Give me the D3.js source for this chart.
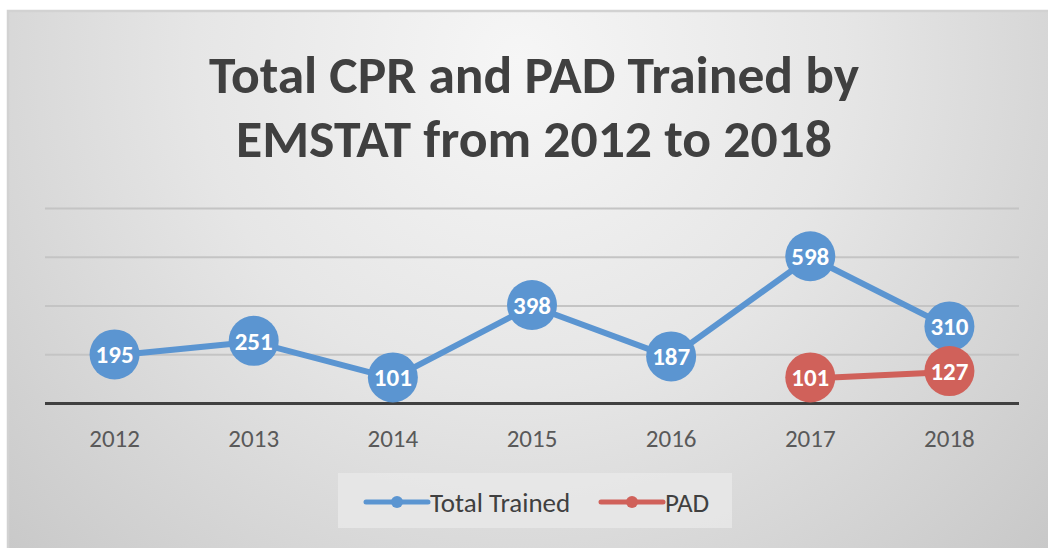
<!DOCTYPE html>
<html>
<head>
<meta charset="utf-8">
<script src="https://cdn.jsdelivr.net/npm/d3@7"></script>
<style>
  html, body { margin: 0; padding: 0; background: #fff; }
  svg { display: block; }
</style>
</head>
<body>
<svg id="chart" width="1048" height="548"></svg>
<script>
var years = ['2012', '2013', '2014', '2015', '2016', '2017', '2018'];
var totalTrained = [195, 251, 101, 398, 187, 598, 310];
var padTrained = [null, null, null, null, null, 101, 127];
var yTicks = [0, 200, 400, 600, 800];
var titleLines = ['Total CPR and PAD Trained by', 'EMSTAT from 2012 to 2018'];
var seriesNames = ['Total Trained', 'PAD'];
var seriesColors = ['#5b95d1', '#d0615a'];

var FONT = 'Carlito, "Liberation Sans Narrow", "Open Sans", sans-serif';

var svg = d3.select('#chart');
var W = 1048, H = 548;
var margin = { left: 45, right: 29, top: 208, bottom: 145 };

var defs = svg.append('defs');
var grad = defs.append('radialGradient')
  .attr('id', 'bg')
  .attr('gradientUnits', 'userSpaceOnUse')
  .attr('cx', 520).attr('cy', 60).attr('r', 720)
  .attr('fx', 520).attr('fy', 60);
grad.append('stop').attr('offset', '0%').attr('stop-color', '#f6f6f6');
grad.append('stop').attr('offset', '45%').attr('stop-color', '#e6e6e6');
grad.append('stop').attr('offset', '100%').attr('stop-color', '#c8c8c8');

// chart area background + border
svg.append('rect')
  .attr('x', 7).attr('y', 10).attr('width', W - 7).attr('height', H - 10)
  .attr('fill', 'url(#bg)');
svg.append('path')
  .attr('d', 'M8,' + H + 'V11H' + W)
  .attr('fill', 'none').attr('stroke', '#d2d2d2').attr('stroke-width', 2.5);

var x = d3.scaleBand()
  .domain(years)
  .range([margin.left, W - margin.right]);

var y = d3.scaleLinear()
  .domain([0, 800])
  .range([H - margin.bottom, margin.top]);

// title
svg.append('g').selectAll('text')
  .data(titleLines)
  .join('text')
  .attr('x', 534)
  .attr('y', function(d, i) { return 93 + i * 64; })
  .attr('text-anchor', 'middle')
  .attr('font-family', FONT)
  .attr('font-weight', 'bold')
  .attr('font-size', 52)
  .attr('fill', '#404040')
  .attr('textLength', function(d, i) { return i === 0 ? 650 : 596; })
  .attr('lengthAdjust', 'spacingAndGlyphs')
  .text(function(d) { return d; });

// gridlines
var yAxis = d3.axisLeft(y)
  .tickValues(yTicks)
  .tickSize(-(W - margin.left - margin.right))
  .tickFormat('');
var gy = svg.append('g')
  .attr('transform', 'translate(' + margin.left + ',0)')
  .call(yAxis);
gy.select('.domain').remove();
gy.selectAll('.tick line')
  .attr('stroke', function(d) { return d === 0 ? '#404040' : '#c4c4c4'; })
  .attr('stroke-width', function(d) { return d === 0 ? 3 : 1.8; });

// x axis labels
var xAxis = d3.axisBottom(x).tickSize(0).tickPadding(26);
var gx = svg.append('g')
  .attr('transform', 'translate(0,' + (H - margin.bottom) + ')')
  .call(xAxis);
gx.attr('font-family', FONT).attr('font-size', 25);
gx.select('.domain').remove();
gx.selectAll('text')
  .attr('fill', '#595959');

// series
var series = [totalTrained, padTrained];
var line = d3.line()
  .defined(function(d) { return d != null; })
  .x(function(d, i) { return x(years[i]) + x.bandwidth() / 2; })
  .y(function(d) { return y(d); });

series.forEach(function(vals, si) {
  var g = svg.append('g');
  g.append('path')
    .datum(vals)
    .attr('d', line)
    .attr('fill', 'none')
    .attr('stroke', seriesColors[si])
    .attr('stroke-width', 6)
    .attr('stroke-linejoin', 'round');

  var pts = vals.map(function(v, i) { return { v: v, year: years[i] }; })
    .filter(function(d) { return d.v != null; });

  g.selectAll('circle')
    .data(pts)
    .join('circle')
    .attr('cx', function(d) { return x(d.year) + x.bandwidth() / 2; })
    .attr('cy', function(d) { return y(d.v) - 1; })
    .attr('r', 25)
    .attr('fill', seriesColors[si]);

  g.selectAll('text')
    .data(pts)
    .join('text')
    .attr('x', function(d) { return x(d.year) + x.bandwidth() / 2; })
    .attr('y', function(d) { return y(d.v) + 8; })
    .attr('text-anchor', 'middle')
    .attr('font-family', FONT)
    .attr('font-weight', 'bold')
    .attr('font-size', 25)
    .attr('fill', '#ffffff')
    .text(function(d) { return d.v; });
});

// legend
var legend = svg.append('g');
legend.append('rect')
  .attr('x', 338).attr('y', 473).attr('width', 394).attr('height', 55)
  .attr('fill', '#e9e9e9').attr('opacity', 0.8);

var legendX = [366, 601];
seriesNames.forEach(function(name, i) {
  var lg = legend.append('g').attr('transform', 'translate(' + legendX[i] + ',502)');
  lg.append('line')
    .attr('x1', 0).attr('x2', 62)
    .attr('stroke', seriesColors[i]).attr('stroke-width', 5)
    .attr('stroke-linecap', 'round');
  lg.append('circle')
    .attr('cx', 31).attr('r', 6)
    .attr('fill', seriesColors[i]);
  lg.append('text')
    .attr('x', 64).attr('y', 10)
    .attr('font-family', FONT)
    .attr('font-size', 27)
    .attr('fill', '#404040')
    .text(name);
});
</script>
</body>
</html>
